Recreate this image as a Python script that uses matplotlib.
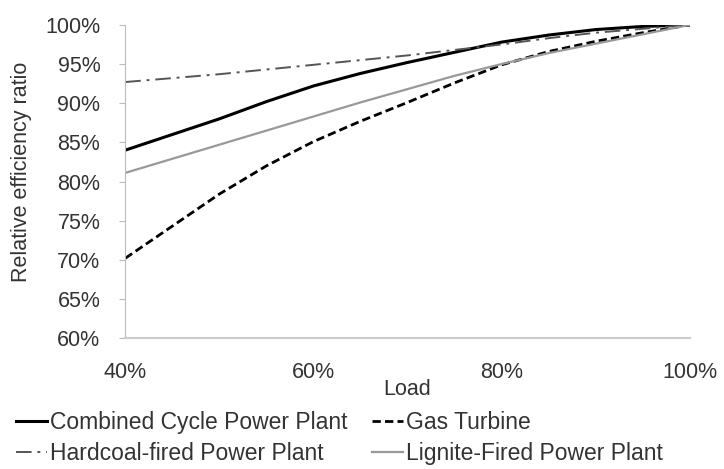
import matplotlib
matplotlib.use("Agg")
import matplotlib.pyplot as plt
from matplotlib.ticker import FuncFormatter

# Load (%) and relative efficiency ratio (%)
load = [40, 45, 50, 55, 60, 65, 70, 75, 80, 85, 90, 95, 100]
combined_cycle = [84.0, 86.0, 88.0, 90.2, 92.2, 93.8, 95.2, 96.5, 97.8, 98.7, 99.4, 99.8, 100.0]
gas_turbine = [70.2, 74.3, 78.4, 82.0, 85.1, 87.7, 90.1, 92.6, 94.9, 96.6, 97.9, 99.0, 100.0]
hardcoal = [92.7, 93.2, 93.7, 94.3, 94.9, 95.5, 96.1, 96.8, 97.5, 98.3, 99.0, 99.5, 100.0]
lignite = [81.1, 82.9, 84.7, 86.5, 88.3, 90.1, 91.8, 93.5, 95.0, 96.4, 97.6, 98.8, 100.0]

x_ticks = [40, 60, 80, 100]
y_ticks = [60, 65, 70, 75, 80, 85, 90, 95, 100]

plt.rcParams["font.family"] = ["Liberation Sans", "DejaVu Sans"]
txt = "#333333"
fs = 15.5

fig = plt.figure(figsize=(7.24, 4.69), dpi=100)
ax = fig.add_axes([0.173, 0.279, 0.78, 0.668])

l_cc, = ax.plot(load, combined_cycle, color="black", lw=2.2, label="Combined Cycle Power Plant")
l_gt, = ax.plot(load, gas_turbine, color="black", lw=2.0, ls=(0, (3, 1.5)), label="Gas Turbine")
l_hc, = ax.plot(load, hardcoal, color="#555555", lw=1.4, ls=(0, (8, 3, 1.5, 3)), label="Hardcoal-fired Power Plant")
l_lg, = ax.plot(load, lignite, color="#999999", lw=1.6, label="Lignite-Fired Power Plant")

ax.set_xlim(40, 100)
ax.set_ylim(60, 100)
ax.set_xticks(x_ticks)
ax.set_yticks(y_ticks)
ax.xaxis.set_major_formatter(FuncFormatter(lambda v, p: f"{v:.0f}%"))
ax.yaxis.set_major_formatter(FuncFormatter(lambda v, p: f"{v:.0f}%"))
ax.tick_params(axis="x", length=0, pad=17, labelsize=fs, labelcolor=txt)
ax.tick_params(axis="y", length=4, color="#bbbbbb", pad=14, labelsize=fs, labelcolor=txt)
for s in ["top", "right"]:
    ax.spines[s].set_visible(False)
ax.spines["left"].set_color("#bbbbbb")
ax.spines["bottom"].set_color("#cccccc")
ax.spines["bottom"].set_linewidth(1.5)

ax.set_xlabel("Load", fontsize=fs, color=txt, labelpad=-3)
ax.set_ylabel("Relative efficiency ratio", fontsize=fs, color=txt)
ax.yaxis.set_label_coords(-0.165, 0.53)

# Excel-style legend below the plot; column-major order gives
# row 1: combined cycle, gas turbine / row 2: hardcoal, lignite
fig.legend(handles=[l_cc, l_hc, l_gt, l_lg], ncol=2, loc="lower left",
           bbox_to_anchor=(0.01, -0.012), frameon=False, fontsize=16.5,
           handlelength=1.35, handletextpad=0.1, columnspacing=1.1,
           labelspacing=0.35, borderaxespad=0, labelcolor=txt)

fig.savefig("out.png", dpi=100)
